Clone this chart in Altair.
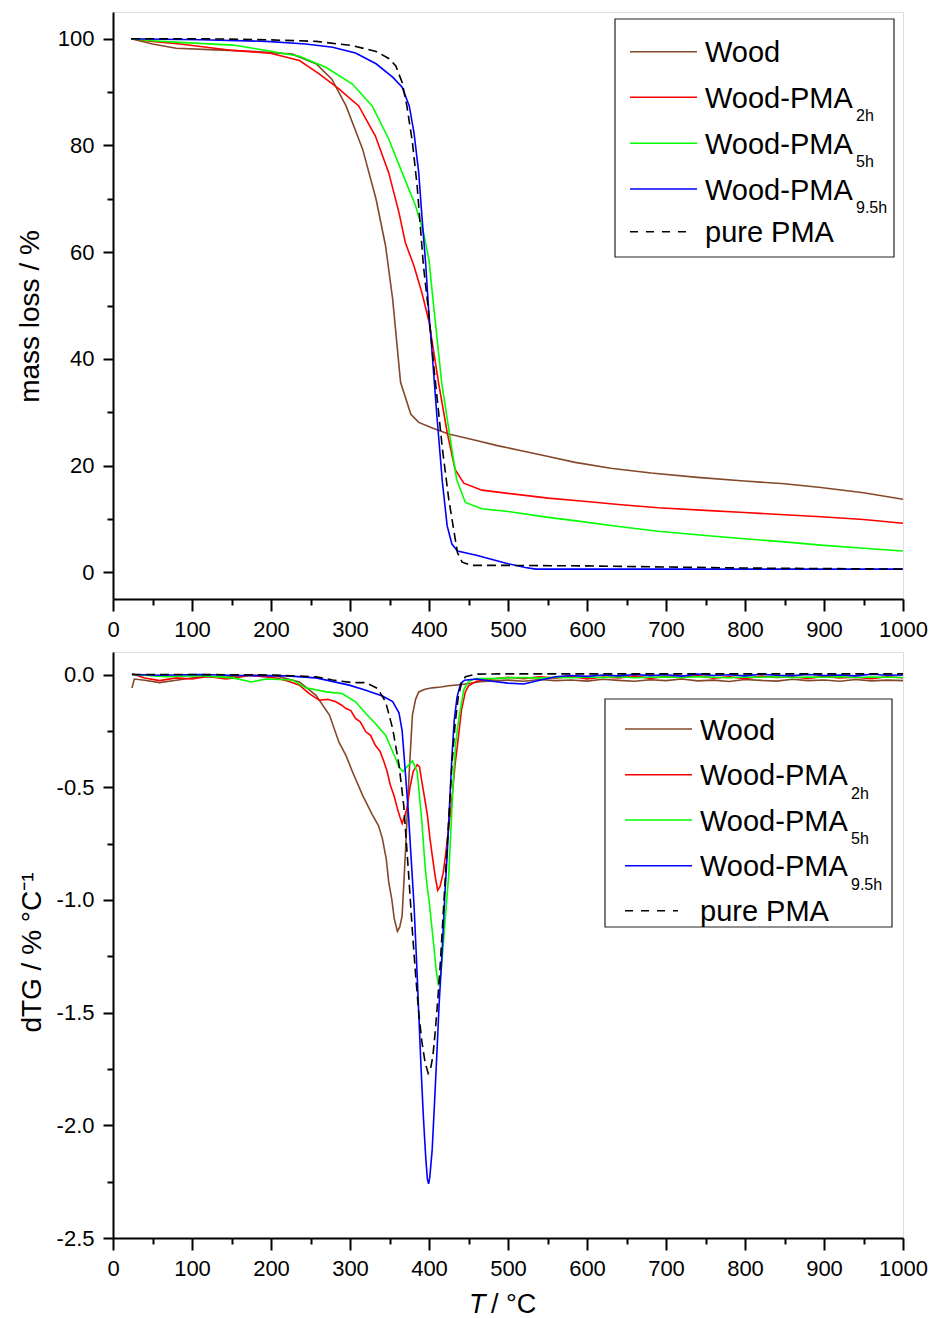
import altair as alt
import pandas as pd

FONT = "Liberation Sans"

# ---------------- series meta ----------------
names = ["Wood", "Wood-PMA2h", "Wood-PMA5h", "Wood-PMA9.5h", "pure PMA"]
legend_main = ["Wood", "Wood-PMA", "Wood-PMA", "Wood-PMA", "pure PMA"]
legend_sub = ["", "2h", "5h", "9.5h", ""]
colors = ["#84482a", "#ff0000", "#00ff00", "#0000ff", "#000000"]

# ---------------- TG (mass loss) ----------------
wood_T = [23, 50, 80, 130, 180, 227, 257, 277, 295, 316, 333, 345, 354, 364, 377, 387, 405, 425,
          460, 488, 520, 551, 585, 630, 681, 740, 799, 850, 896, 950, 1000]
wood_m = [100, 99.0, 98.2, 97.9, 97.6, 97.1, 95.3, 92.4, 87.4, 79.3, 69.9, 61.2, 51.2, 35.6, 29.6, 28.1,
          27.0, 25.9, 24.7, 23.7, 22.7, 21.7, 20.6, 19.5, 18.6, 17.8, 17.1, 16.6, 15.9, 14.9, 13.7]

red_T = [23, 50, 85, 152, 198, 236, 261, 286, 311, 332, 349, 362, 370, 381, 391, 400, 412, 423, 433,
         444, 467, 500, 551, 589, 640, 690, 750, 799, 850, 896, 950, 1000]
red_m = [100, 99.5, 99.0, 97.8, 97.3, 95.9, 93.4, 90.6, 87.4, 81.8, 74.9, 67.4, 61.8, 57.4, 52.4, 47.0,
         35.6, 26.2, 19.3, 16.7, 15.4, 14.8, 13.9, 13.4, 12.7, 12.1, 11.6, 11.2, 10.8, 10.4, 9.9, 9.2]

green_T = [23, 50, 85, 152, 194, 236, 270, 303, 328, 349, 366, 383, 393, 400, 405, 416, 427, 435, 446,
           467, 500, 551, 589, 640, 690, 750, 799, 850, 896, 950, 1000]
green_m = [100, 99.6, 99.3, 98.8, 97.8, 96.7, 94.6, 91.5, 87.4, 81.2, 74.9, 68.7, 63.7, 58.5, 51.2, 35.6,
           24.9, 17.4, 13.1, 11.9, 11.4, 10.3, 9.6, 8.6, 7.7, 6.9, 6.3, 5.7, 5.1, 4.5, 4.0]

blue_T = [23, 60, 110, 194, 244, 278, 307, 333, 354, 366, 375, 381, 387, 391, 396, 400, 402, 410, 417,
          423, 429, 436, 460, 480, 500, 522, 535, 560, 700, 850, 1000]
blue_m = [100, 99.9, 99.8, 99.5, 99.0, 98.4, 97.3, 95.3, 92.8, 90.9, 87.4, 82.4, 74.9, 66.8, 57.4, 48.1,
          44.9, 29.3, 16.8, 8.7, 5.3, 4.0, 3.2, 2.4, 1.6, 0.9, 0.6, 0.6, 0.6, 0.6, 0.6]

pma_T = [23, 110, 194, 257, 303, 333, 349, 358, 366, 372, 379, 385, 389, 393, 400, 406, 417, 425, 436,
         442, 454, 500, 600, 700, 800, 900, 1000]
pma_m = [100, 100, 99.8, 99.5, 98.7, 97.6, 96.3, 94.9, 91.8, 87.4, 80.6, 72.4, 64.9, 57.4, 48.1, 38.7,
         23.1, 13.7, 3.7, 1.9, 1.3, 1.3, 1.2, 1.0, 0.8, 0.7, 0.6]

# ---------------- DTG ----------------
tail_T = [480, 500, 520, 540, 560, 580, 600, 620, 640, 660, 680, 700, 720, 740, 760, 780, 800, 820,
          840, 860, 880, 900, 920, 940, 960, 980, 1000]

wood_dT = [24, 27, 40, 59, 80, 110, 140, 173, 206, 236, 257, 274, 286, 295, 303, 316, 328, 336, 341,
           346, 349, 353, 356, 360, 363, 366, 370, 375, 379, 383, 387, 395, 404, 415, 425, 442, 465] + tail_T
wood_dv = [-0.06, -0.02, -0.025, -0.036, -0.025, -0.01, -0.012, -0.003, -0.006, -0.033, -0.092, -0.18,
           -0.30, -0.36, -0.43, -0.536, -0.62, -0.67, -0.728, -0.82, -0.92, -1.0, -1.083, -1.139, -1.12,
           -1.07, -0.80, -0.43, -0.18, -0.11, -0.077, -0.065, -0.059, -0.055, -0.05, -0.044, -0.032] + \
          [-0.028, -0.025, -0.030, -0.022, -0.027, -0.024, -0.029, -0.021, -0.026, -0.030, -0.023, -0.027,
           -0.020, -0.028, -0.025, -0.031, -0.022, -0.026, -0.029, -0.021, -0.027, -0.024, -0.030, -0.022,
           -0.028, -0.025, -0.027]

red_dT = [24, 40, 59, 80, 100, 120, 143, 160, 173, 190, 206, 222, 236, 248, 261, 272, 282, 289, 295,
          301, 307, 313, 320, 326, 332, 338, 343, 347, 351, 356, 360, 363, 366, 369, 372, 376, 380, 385,
          388, 391, 395, 398, 401, 404, 408, 411, 414, 418, 421, 425, 429, 433, 437, 441, 446, 450, 460] + tail_T
red_dv = [0.004, -0.015, -0.027, -0.015, -0.02, -0.008, -0.02, -0.012, -0.003, -0.01, -0.015, -0.03,
          -0.047, -0.084, -0.114, -0.11, -0.121, -0.135, -0.151, -0.16, -0.195, -0.21, -0.254, -0.27,
          -0.314, -0.34, -0.387, -0.43, -0.49, -0.54, -0.595, -0.63, -0.661, -0.63, -0.595, -0.50, -0.43,
          -0.40, -0.41, -0.476, -0.56, -0.625, -0.72, -0.80, -0.90, -0.957, -0.94, -0.88, -0.80, -0.68,
          -0.55, -0.40, -0.284, -0.16, -0.077, -0.05, -0.03] + \
         [-0.020, -0.012, -0.018, -0.010, -0.016, -0.008, -0.019, -0.011, -0.015, -0.006, -0.017, -0.009,
          -0.014, -0.004, -0.016, -0.010, -0.018, -0.007, -0.013, -0.011, -0.017, -0.008, -0.015, -0.012,
          -0.018, -0.010, -0.014]

green_dT = [24, 67, 110, 152, 175, 194, 227, 244, 270, 290, 307, 320, 332, 345, 356, 362, 367, 372,
            379, 385, 391, 395, 398, 400, 403, 406, 409, 412, 415, 418, 422, 425, 428, 431, 434, 438,
            444, 450, 460] + tail_T
green_dv = [0.0, -0.01, -0.005, -0.015, -0.033, -0.02, -0.024, -0.059, -0.077, -0.084, -0.121, -0.173,
            -0.217, -0.269, -0.358, -0.41, -0.43, -0.41, -0.383, -0.43, -0.654, -0.85, -0.95, -1.0, -1.10,
            -1.2, -1.31, -1.38, -1.33, -1.2, -1.02, -0.89, -0.67, -0.45, -0.30, -0.19, -0.068, -0.03,
            -0.018] + \
           [-0.018, -0.015, -0.013, -0.016, -0.012, -0.014, -0.011, -0.013, -0.010, -0.014, -0.012, -0.011,
            -0.013, -0.010, -0.012, -0.014, -0.011, -0.012, -0.010, -0.013, -0.011, -0.012, -0.010, -0.013,
            -0.011, -0.012, -0.013]

blue_dT = [24, 60, 110, 160, 219, 257, 299, 320, 341, 354, 362, 366, 370, 374, 378, 381, 384, 387, 390,
           393, 396, 398, 399.5, 401, 404, 407, 410, 413, 416.5, 420, 423, 426, 429, 432, 435.5, 440,
           445, 460] + tail_T
blue_dv = [0.0, -0.003, 0.0, -0.004, -0.006, -0.015, -0.047, -0.07, -0.095, -0.12, -0.17, -0.25, -0.43,
           -0.62, -0.85, -1.02, -1.25, -1.5, -1.75, -1.97, -2.15, -2.24, -2.26, -2.23, -2.11, -1.9, -1.68,
           -1.45, -1.24, -0.98, -0.80, -0.58, -0.365, -0.2, -0.10, -0.04, -0.025, -0.02] + \
          [-0.030, -0.038, -0.042, -0.025, -0.010, -0.004, -0.008, -0.002, -0.006, 0.000, -0.005, -0.001,
           -0.007, 0.002, -0.004, -0.001, -0.006, 0.001, -0.003, -0.005, 0.000, -0.004, -0.002, -0.006,
           0.001, -0.003, -0.002]

pma_dT = [24, 100, 200, 257, 278, 303, 320, 335, 345, 354, 362, 368, 374, 379, 383, 387, 391, 395, 399,
          402, 405, 408, 411, 414, 417, 420, 423, 426, 429, 433, 437, 441, 446, 460, 500, 600, 700, 800,
          900, 1000]
pma_dv = [0.0, 0.0, -0.002, -0.01, -0.024, -0.036, -0.036, -0.062, -0.12, -0.24, -0.40, -0.58, -0.876,
          -1.14, -1.33, -1.5, -1.63, -1.72, -1.77, -1.75, -1.69, -1.58, -1.45, -1.30, -1.12, -0.94, -0.76,
          -0.58, -0.40, -0.22, -0.10, -0.04, -0.01, 0.002, 0.003, 0.003, 0.003, 0.003, 0.003, 0.003]

tg_series = [(wood_T, wood_m), (red_T, red_m), (green_T, green_m), (blue_T, blue_m), (pma_T, pma_m)]
dtg_series = [(wood_dT, wood_dv), (red_dT, red_dv), (green_dT, green_dv), (blue_dT, blue_dv),
              (pma_dT, pma_dv)]

# ---------------- helpers ----------------
W = 790
x_ticks = list(range(0, 1001, 50))
x_scale = alt.Scale(domain=[0, 1000], nice=False, zero=False)

common_axis = dict(grid=False, domainWidth=2, domainColor="black", tickColor="black", tickWidth=2,
                   labelColor="black", labelFont=FONT, labelFontSize=22, labelOverlap=False,
                   labelFlush=False, titleFont=FONT, titleFontWeight="normal", titleColor="black",
                   titleFontSize=28)

x_axis = alt.Axis(title=None, values=x_ticks, format="d",
                  labelExpr="datum.value % 100 === 0 ? '' + datum.value : ''",
                  tickSize={"condition": {"test": "datum.value % 100 === 0", "value": 12}, "value": 6},
                  labelPadding=8, **common_axis)

tg_axis = alt.Axis(title="mass loss / %", values=list(range(0, 101, 10)), format="d",
                   labelExpr="datum.value % 20 === 0 ? '' + datum.value : ''",
                   tickSize={"condition": {"test": "datum.value % 20 === 0", "value": 10}, "value": 6},
                   labelPadding=9, titlePadding=13, titleY=304, **common_axis)

dtg_vals = [-2.5, -2.25, -2.0, -1.75, -1.5, -1.25, -1.0, -0.75, -0.5, -0.25, 0.0]
dtg_test = "abs(datum.value * 2 - round(datum.value * 2)) < 0.000001"
dtg_axis = alt.Axis(title="dTG / % °C\u207b\u00b9", values=dtg_vals,
                    labelExpr="(" + dtg_test + ") ? ((datum.value < 0 ? '-' : '') + format(abs(datum.value), '.1f')) : ''",
                    tickSize={"condition": {"test": dtg_test, "value": 10}, "value": 6},
                    labelPadding=9, titlePadding=10, titleY=300, **common_axis)

one = pd.DataFrame({"k": [0]})


def line_layers(series, y_scale, y_axis):
    layers = []
    for (Ts, vs), col, nm in zip(series, colors, names):
        df = pd.DataFrame({"T": Ts, "v": vs})
        kw = dict(color=col, strokeWidth=1.6, clip=True)
        if nm == "pure PMA":
            kw["strokeDash"] = [9, 5]
        layers.append(alt.Chart(df).mark_line(**kw).encode(
            x=alt.X("T:Q", scale=x_scale, axis=x_axis),
            y=alt.Y("v:Q", scale=y_scale, axis=y_axis)))
    return layers


def legend_layers(box, rows, line_x, dash_end, text_x):
    layers = [alt.Chart(one).mark_rect(fill="white", stroke="#222222", strokeWidth=1.2).encode(
        x=alt.value(box[0]), x2=alt.value(box[1]), y=alt.value(box[2]), y2=alt.value(box[3]))]
    for ry, col, nm, main, sub in zip(rows, colors, names, legend_main, legend_sub):
        kw = dict(color=col, strokeWidth=1.6)
        x1 = line_x[1]
        if nm == "pure PMA":
            kw["strokeDash"] = [8, 8]
            x1 = dash_end
        layers.append(alt.Chart(one).mark_rule(**kw).encode(
            x=alt.value(line_x[0]), x2=alt.value(x1), y=alt.value(ry)))
        layers.append(alt.Chart(one).mark_text(align="left", baseline="alphabetic", font=FONT,
                                               fontSize=29, color="black").encode(
            x=alt.value(text_x), y=alt.value(ry + 10.6), text=alt.value(main)))
        if sub:
            layers.append(alt.Chart(one).mark_text(align="left", baseline="alphabetic", font=FONT,
                                                   fontSize=16, color="black").encode(
                x=alt.value(text_x + 151), y=alt.value(ry + 24), text=alt.value(sub)))
    return layers


top = alt.layer(
    *line_layers(tg_series, alt.Scale(domain=[-5, 105], nice=False, zero=False), tg_axis),
    *legend_layers((502, 781, 7, 245), [39.7, 85.3, 131.3, 177, 219.7], (517, 584), 575, 592)
).properties(width=W, height=587)

xtitle = [
    alt.Chart(one).mark_text(align="left", baseline="alphabetic", font=FONT, fontSize=27,
                             fontStyle="italic", color="black").encode(
        x=alt.value(356), y=alt.value(661), text=alt.value("T")),
    alt.Chart(one).mark_text(align="left", baseline="alphabetic", font=FONT, fontSize=27,
                             color="black").encode(
        x=alt.value(378), y=alt.value(661), text=alt.value("/ °C")),
]

bottom = alt.layer(
    *line_layers(dtg_series, alt.Scale(domain=[-2.5, 0.1], nice=False, zero=False), dtg_axis),
    *legend_layers((492, 779, 47, 275), [77, 122.7, 168, 213.7, 258.7], (512, 579), 565, 587),
    *xtitle
).properties(width=W, height=586)

chart = alt.vconcat(top, bottom, spacing=10).properties(
    padding={"left": 7, "top": 3, "right": 0, "bottom": 0}
).configure_view(stroke="black", strokeWidth=2).configure(background="white")

chart.save("out.html", embed_options={"renderer": "svg", "actions": False})
